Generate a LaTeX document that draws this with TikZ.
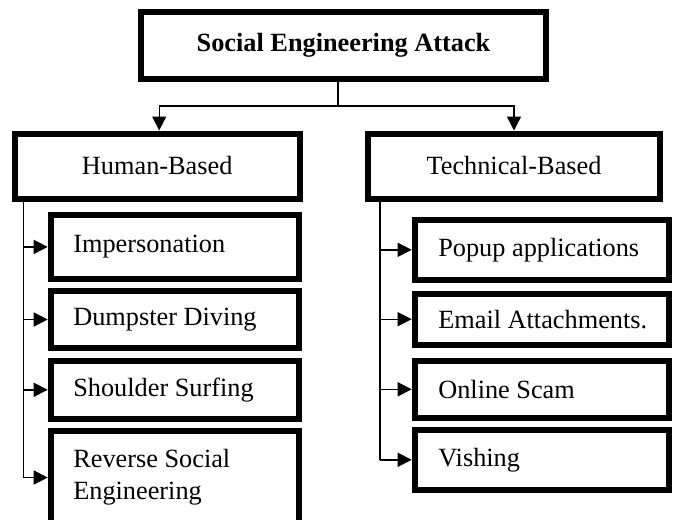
\documentclass[tikz,border=0pt]{standalone}
\usepackage{fontspec}
\setmainfont{Liberation Serif}
\usetikzlibrary{arrows.meta}
% left indent of the text inside the leaf boxes
\newcommand\leafgapL{\hspace*{22.6pt}}
\newcommand\leafgapR{\hspace*{23.6pt}}
\begin{document}
\begin{tikzpicture}[x=1pt,y=-1pt,
  box/.style={draw=black, line width=6pt, inner sep=0pt,
    font=\fontsize{26.3}{32}\selectfont},
  rootbox/.style={box, minimum width=405pt, minimum height=67pt,
    font=\fontsize{26.3}{32}\selectfont\bfseries},
  catbox/.style={box, minimum height=65pt},
  leafL/.style={box, text width=248.3pt, align=flush left},
  leafR/.style={box, text width=254pt, align=flush left},
  link/.style={line width=1.4pt},
  arr/.style={link, -{Triangle[length=14pt,width=14pt]}}
]
\useasboundingbox (0,0) rectangle (673,520);

% root and the two categories
\node[rootbox] (root) at (343.5,45.5) {Social Engineering Attack};
\node[catbox, minimum width=285pt] (human) at (157.2,166) {Human-Based};
\node[catbox, minimum width=292pt] (tech) at (514,166) {Technical-Based};

% human-based attacks
\node[leafL, minimum height=63.7pt] (imp) at (174.85,246.9) {\leafgapL Impersonation};
\node[leafL, minimum height=57pt] (dump) at (174.85,319.5) {\leafgapL Dumpster Diving};
\node[leafL, minimum height=57.7pt] (shoulder) at (174.85,389.8) {\leafgapL Shoulder Surfing};
\node[leafL, minimum height=93pt] (rev) at (174.85,477.5) {\leafgapL Reverse Social\\\leafgapL Engineering};

% technical-based attacks
\node[leafR, minimum height=60.3pt] (popup) at (541.7,249.8) {\leafgapR Popup applications};
\node[leafR, minimum height=51pt] (email) at (541.7,319.2) {\leafgapR Email Attachments.};
\node[leafR, minimum height=56.7pt] (scam) at (541.7,389.3) {\leafgapR Online Scam};
\node[leafR, minimum height=60.3pt] (vish) at (541.7,459.8) {\leafgapR Vishing};

% branching points
\coordinate (split) at (338,106);
\coordinate (lspine) at (23.3,0);
\coordinate (rspine) at (380,0);

% root to categories
\draw[link] (split |- root.south) -- (split);
\draw[arr] (split) -| ([xshift=2pt]human.north);
\draw[arr] (split) -| (tech.north);

% category spines and leaf arrows
\draw[link] (lspine |- human.south) -- (lspine |- rev.west);
\foreach \n in {imp,dump,shoulder,rev}
  \draw[arr] (lspine |- \n.west) -- (\n.west);

\draw[link] (rspine |- tech.south) -- (rspine |- vish.west);
\foreach \n in {popup,email,scam,vish}
  \draw[arr] (rspine |- \n.west) -- (\n.west);
\end{tikzpicture}
\end{document}
